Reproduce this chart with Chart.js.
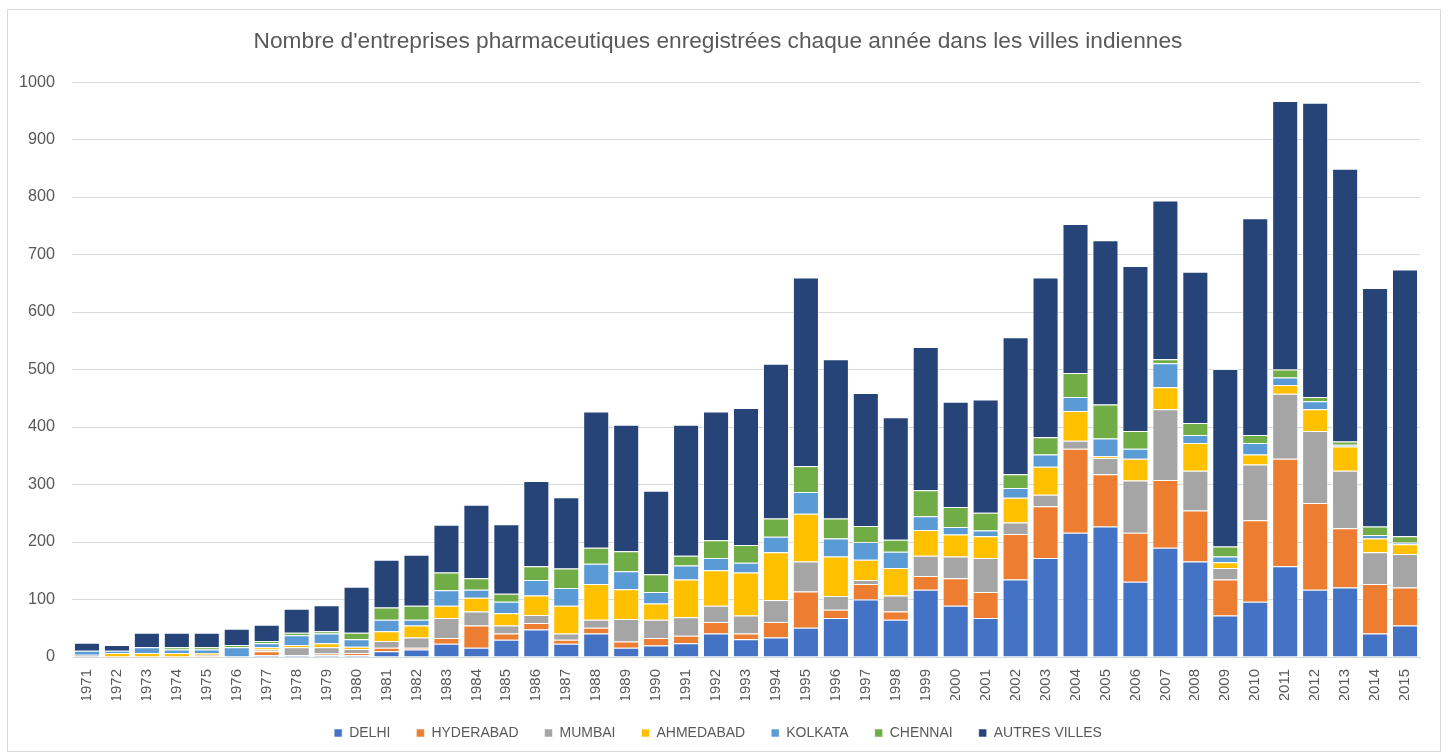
<!DOCTYPE html>
<html><head><meta charset="utf-8">
<script src="https://cdn.jsdelivr.net/npm/chart.js@4.4.1/dist/chart.umd.min.js"></script>
<style>html,body{margin:0;padding:0;background:#fff;overflow:hidden;}#wrap{width:1448px;height:756px;overflow:hidden;}</style>
</head><body><div id="wrap"><canvas id="c" width="1448" height="756"></canvas></div>
<script>
const years = ['1971','1972','1973','1974','1975','1976','1977','1978','1979','1980','1981','1982','1983','1984','1985','1986','1987','1988','1989','1990','1991','1992','1993','1994','1995','1996','1997','1998','1999','2000','2001','2002','2003','2004','2005','2006','2007','2008','2009','2010','2011','2012','2013','2014','2015'];
const delhi     = [1,0,0,0,0,0,3,3,3,3,10,13,23,16,30,48,23,41,16,20,24,41,31,34,51,68,100,65,117,89,68,135,172,216,227,131,190,166,72,96,158,117,121,41,55];
const hyderabad = [0,0,0,0,2,0,7,0,3,4,6,3,10,39,11,11,7,10,11,13,13,20,10,27,63,14,27,14,24,48,45,79,90,146,91,85,118,89,63,142,187,151,103,86,66];
const mumbai    = [3,0,0,0,2,0,3,14,11,7,12,18,35,24,14,14,11,14,39,32,32,28,31,38,52,24,7,28,35,38,59,20,20,14,28,91,123,69,20,97,113,125,100,55,58];
const ahmedabad = [0,7,7,7,3,0,4,4,7,4,17,21,21,24,21,34,48,62,52,28,66,62,75,83,83,69,35,48,45,38,38,43,49,52,3,38,38,48,10,17,15,38,42,24,17];
const kolkata   = [7,4,10,6,6,17,7,17,17,13,20,10,27,14,20,27,31,35,31,20,24,21,17,27,38,31,31,28,24,13,10,17,21,24,31,17,42,14,10,20,13,14,3,6,3];
const chennai   = [0,0,0,4,4,4,4,4,4,11,21,24,31,20,14,24,34,28,35,31,17,31,31,32,45,35,28,21,45,35,31,24,30,42,59,31,7,21,17,14,14,7,6,15,11];
const autres    = [14,10,25,25,25,28,28,42,45,80,83,89,83,128,121,148,124,237,220,145,228,224,238,269,328,277,231,213,249,183,197,238,278,259,286,287,276,263,309,377,467,512,474,415,464];

const names  = ['DELHI','HYDERABAD','MUMBAI','AHMEDABAD','KOLKATA','CHENNAI','AUTRES VILLES'];
const series = [delhi, hyderabad, mumbai, ahmedabad, kolkata, chennai, autres];
const colors = ['#4472C4','#ED7D31','#A5A5A5','#FFC000','#5B9BD5','#70AD47','#264478'];

const frame = {
  id: 'frame',
  beforeDraw(chart) {
    const ctx = chart.ctx;
    ctx.save();
    ctx.fillStyle = '#ffffff';
    ctx.fillRect(0, 0, chart.width, chart.height);
    ctx.strokeStyle = '#d9d9d9';
    ctx.lineWidth = 1;
    ctx.strokeRect(7.5, 9.5, 1433, 742);
    ctx.restore();
  }
};

new Chart(document.getElementById('c'), {
  type: 'bar',
  data: {
    labels: years,
    datasets: series.map((d, i) => ({
      label: names[i],
      data: d,
      backgroundColor: colors[i],
      borderColor: 'rgba(255,255,255,0.55)',
      borderWidth: 1,
      barPercentage: 0.87,
      categoryPercentage: 1.0
    }))
  },
  options: {
    responsive: false,
    animation: false,
    devicePixelRatio: 1,
    layout: { padding: { left: 16, right: 28, top: 0, bottom: 6 } },
    plugins: {
      title: {
        display: true,
        text: "Nombre d'entreprises pharmaceutiques enregistrées chaque année dans les villes indiennes",
        color: '#595959',
        font: { family: 'Liberation Sans, Arial, sans-serif', size: 22.7, weight: 'normal' },
        padding: { top: 28, bottom: 26.8 }
      },
      legend: {
        position: 'bottom',
        labels: {
          boxWidth: 8, boxHeight: 8, padding: 26,
          color: '#595959',
          font: { family: 'Liberation Sans, Arial, sans-serif', size: 14 }
        }
      },
      tooltip: { enabled: false }
    },
    scales: {
      x: {
        stacked: true,
        grid: { display: false, drawTicks: false },
        border: { display: true, color: '#d9d9d9', width: 1 },
        ticks: {
          autoSkip: false, minRotation: 90, maxRotation: 90, padding: 12,
          color: '#595959',
          font: { family: 'Liberation Sans, Arial, sans-serif', size: 15 }
        },
        afterFit(scale) { scale.height = 43; }
      },
      y: {
        stacked: true,
        min: 0, max: 1000,
        grid: { color: '#d9d9d9', lineWidth: 1, drawTicks: false },
        border: { display: false },
        ticks: {
          stepSize: 100, padding: 17,
          color: '#595959',
          font: { family: 'Liberation Sans, Arial, sans-serif', size: 16.2 },
          callback: (v) => String(v)
        },
        afterFit(scale) { scale.width = 56; }
      }
    }
  },
  plugins: [frame]
});
</script>
</body></html>
